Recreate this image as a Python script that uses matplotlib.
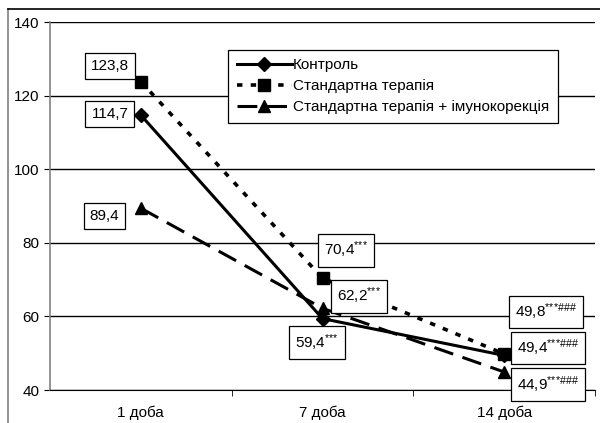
import matplotlib.pyplot as plt
from matplotlib.lines import Line2D

plt.rcParams['font.family'] = ['Liberation Sans', 'DejaVu Sans']
plt.rcParams['mathtext.fontset'] = 'custom'
plt.rcParams['mathtext.rm'] = 'Liberation Sans'
plt.rcParams['mathtext.default'] = 'regular'

# data
days = ['1 доба', '7 доба', '14 доба']
control = [114.7, 59.4, 49.4]
standard = [123.8, 70.4, 49.8]
immuno = [89.4, 62.2, 44.9]
series_names = ['Контроль', 'Стандартна терапія', 'Стандартна терапія + імунокорекція']

stars = '{*}{*}{*}'
hashes = '\\#\\#\\#'
control_labels = ['114,7', '59,4$^{' + stars + '}$', '49,4$^{' + stars + hashes + '}$']
standard_labels = ['123,8', '70,4$^{' + stars + '}$', '49,8$^{' + stars + hashes + '}$']
immuno_labels = ['89,4', '62,2$^{' + stars + '}$', '44,9$^{' + stars + hashes + '}$']

# label box offsets (dx, dy) from each point
control_off = [(-0.17, 0.3), (-0.03, -6.6), (0.24, 2.0)]
standard_off = [(-0.17, 4.2), (0.13, 7.6), (0.23, 11.4)]
immuno_off = [(-0.20, -2.1), (0.20, 3.3), (0.24, -3.5)]

fig = plt.figure(figsize=(6, 4.23), dpi=100)
ax = fig.add_axes([50 / 600, 33 / 423, 545 / 600, 368 / 423])

# outer frame (left and top only visible)
fig.add_artist(Line2D([8 / 600, 8 / 600], [0, 1 - 9 / 423], color='#808080', lw=1.2))
fig.add_artist(Line2D([8 / 600, 1], [1 - 9 / 423, 1 - 9 / 423], color='black', lw=1.2))

x = range(len(days))
ax.plot(x, control, color='black', lw=2.2, marker='D', ms=7, label=series_names[0])
ax.plot(x, standard, color='black', lw=2.6, ls=(0, (1.5, 2.3)), marker='s', ms=8,
        label=series_names[1])
ax.plot(x, immuno, color='black', lw=2.2, ls=(0, (6.5, 3.2)), marker='^', ms=8.5,
        label=series_names[2])

box = dict(boxstyle='square,pad=0.4', fc='white', ec='black', lw=0.9)
for vals, labs, offs in [(standard, standard_labels, standard_off),
                         (control, control_labels, control_off),
                         (immuno, immuno_labels, immuno_off)]:
    for i, (v, lab, (dx, dy)) in enumerate(zip(vals, labs, offs)):
        ax.text(i + dx, v + dy, lab, ha='center', va='center', fontsize=11,
                bbox=box, zorder=5)

ax.set_xlim(-0.5, 2.5)
ax.set_ylim(40, 140)
ax.set_yticks(range(40, 141, 20))
ax.set_xticks(list(x))
ax.set_xticklabels(days)
ax.set_xticks([0.5, 1.5, 2.5], minor=True)
ax.tick_params(axis='x', which='major', length=0, pad=11, labelsize=11)
ax.tick_params(axis='x', which='minor', length=4, direction='out', color='black')
ax.tick_params(axis='y', length=4, direction='out', labelsize=11, color='black')
ax.yaxis.grid(True, color='black', lw=1)
ax.set_axisbelow(True)
for s in ['top', 'right']:
    ax.spines[s].set_visible(False)
ax.spines['left'].set_color('#808080')
ax.spines['left'].set_linewidth(1.2)
ax.spines['bottom'].set_color('black')

leg = ax.legend(loc='upper left', bbox_to_anchor=(0.327, 0.924), fontsize=11,
                handlelength=3.6, handletextpad=0.1, labelspacing=0.45,
                fancybox=False, framealpha=1, edgecolor='black', borderpad=0.55,
                borderaxespad=0)
leg.get_frame().set_linewidth(0.9)

fig.savefig('out.png', dpi=100)
